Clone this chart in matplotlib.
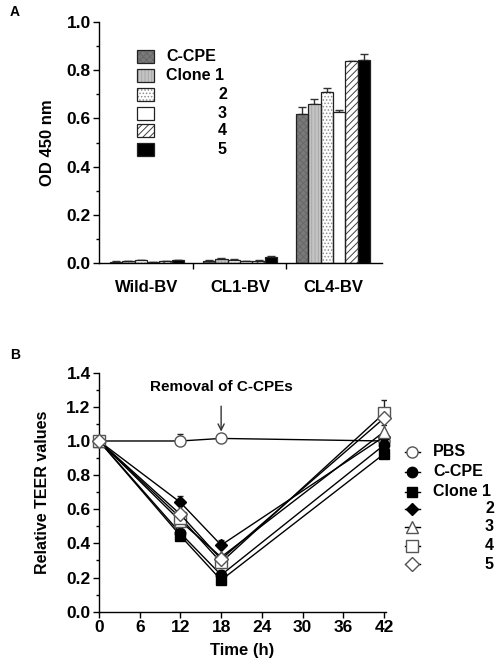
import matplotlib
matplotlib.use('Agg')
import matplotlib.pyplot as plt
import numpy as np
from matplotlib.patches import Rectangle
from matplotlib.lines import Line2D
from matplotlib.ticker import MultipleLocator, FormatStrFormatter

plt.rcParams['font.family'] = ['Liberation Sans', 'DejaVu Sans']
plt.rcParams['font.weight'] = 'bold'
plt.rcParams['hatch.linewidth'] = 0.7

# ---------------- Panel A data ----------------
groups = ['Wild-BV', 'CL1-BV', 'CL4-BV']
series_a = ['C-CPE', 'Clone 1', '2', '3', '4', '5']
od_ccpe = [0.005, 0.010, 0.620]
od_clone1 = [0.008, 0.018, 0.660]
od_c2 = [0.012, 0.014, 0.708]
od_c3 = [0.003, 0.008, 0.625]
od_c4 = [0.007, 0.010, 0.837]
od_c5 = [0.012, 0.025, 0.844]
err_ccpe = [0.002, 0.002, 0.027]
err_clone1 = [0.002, 0.003, 0.020]
err_c2 = [0.002, 0.002, 0.018]
err_c3 = [0.001, 0.001, 0.010]
err_c4 = [0.001, 0.002, 0.003]
err_c5 = [0.002, 0.002, 0.025]

# ---------------- Panel B data ----------------
time_h = [0, 12, 18, 42]
series_b = ['PBS', 'C-CPE', 'Clone 1', '2', '3', '4', '5']
teer_pbs = [1.0, 1.0, 1.015, 1.0]
teer_ccpe = [1.0, 0.46, 0.215, 0.976]
teer_clone1 = [1.0, 0.445, 0.185, 0.924]
teer_c2 = [1.0, 0.64, 0.39, 1.025]
teer_c3 = [1.0, 0.53, 0.32, 1.054]
teer_c4 = [1.0, 0.55, 0.289, 1.162]
teer_c5 = [1.0, 0.57, 0.307, 1.133]
terr_pbs = [0, 0.04, 0.0, 0.0]
terr_ccpe = [0, 0.02, 0.03, 0.02]
terr_clone1 = [0, 0.09, 0.02, 0.01]
terr_c2 = [0, 0.04, 0.03, 0.02]
terr_c3 = [0, 0.02, 0.02, 0.04]
terr_c4 = [0, 0.02, 0.02, 0.08]
terr_c5 = [0, 0.02, 0.02, 0.02]

fig = plt.figure(figsize=(4.98, 6.65), dpi=100)

# ================= Panel A =================
axA = fig.add_axes([99/498, 1-263/665, 283/498, 241/665])
od_all = [od_ccpe, od_clone1, od_c2, od_c3, od_c4, od_c5]
err_all = [err_ccpe, err_clone1, err_c2, err_c3, err_c4, err_c5]
faces = ['#7a7a7a', '#c4c4c4', 'white', 'white', 'white', 'black']
hatches = ['xxxxx', '|||||', '.....', None, '/////', None]
hcols = ['#686868', '#a8a8a8', '#909090', None, '#404040', None]
n = len(series_a)
w = 0.8 / n
x = np.arange(len(groups))
for i in range(n):
    xi = x - 0.4 + w * (i + 0.5)
    axA.bar(xi, od_all[i], width=w, color=faces[i], hatch=hatches[i],
            edgecolor=hcols[i] if hcols[i] else faces[i], linewidth=0, zorder=2)
    axA.bar(xi, od_all[i], width=w, fill=False, edgecolor='#222222', linewidth=0.9, zorder=3)
    axA.errorbar(xi, od_all[i], yerr=[np.zeros(len(groups)), err_all[i]], fmt='none',
                 ecolor='#333333', elinewidth=1, capsize=3, capthick=1, zorder=1)
axA.set_xlim(-0.516, 2.527)
axA.set_ylim(0, 1.0)
axA.yaxis.set_major_locator(MultipleLocator(0.2))
axA.yaxis.set_minor_locator(MultipleLocator(0.1))
axA.yaxis.set_major_formatter(FormatStrFormatter('%.1f'))
axA.set_xticks([0.5, 1.5])
axA.set_xticklabels([])
axA.set_xticks(x, minor=True)
axA.set_xticklabels(groups, minor=True, fontsize=12)
axA.tick_params(axis='x', which='minor', length=0, pad=12)
axA.tick_params(axis='x', which='major', length=4, width=1)
axA.tick_params(axis='y', which='major', length=4, width=1, pad=2, labelsize=12.5)
axA.tick_params(axis='y', which='minor', length=2, width=1)
for s in ['top', 'right']:
    axA.spines[s].set_visible(False)
for s in ['left', 'bottom']:
    axA.spines[s].set_linewidth(1)
axA.set_ylabel('OD 450 nm', fontsize=12, fontweight='bold')
axA.yaxis.set_label_coords(-0.155, 0.5)

# manual legend A
ly = [0.855, 0.780, 0.700, 0.622, 0.548, 0.473]
for i in range(n):
    axA.add_patch(Rectangle((0.134, ly[i] - 0.027), 0.06, 0.054, transform=axA.transAxes,
                            facecolor=faces[i], hatch=hatches[i],
                            edgecolor=hcols[i] if hcols[i] else faces[i], linewidth=0, zorder=4))
    axA.add_patch(Rectangle((0.134, ly[i] - 0.027), 0.06, 0.054, transform=axA.transAxes,
                            fill=False, edgecolor='#222222', linewidth=0.9, zorder=5))
    if i < 2:
        axA.text(0.237, ly[i], series_a[i], transform=axA.transAxes, fontsize=11.5,
                 va='center', ha='left')
    else:
        axA.text(0.452, ly[i], series_a[i], transform=axA.transAxes, fontsize=11.5,
                 va='center', ha='right')

fig.text(10/498, 1-12/665, 'A', fontsize=10, fontweight='bold', va='center', ha='left')

# ================= Panel B =================
axB = fig.add_axes([99/498, 1-611.7/665, 287/498, 239/665])
teer_all = [teer_pbs, teer_ccpe, teer_clone1, teer_c2, teer_c3, teer_c4, teer_c5]
terr_all = [terr_pbs, terr_ccpe, terr_clone1, terr_c2, terr_c3, terr_c4, terr_c5]
markers = ['o', 'o', 's', 'D', '^', 's', 'D']
msizes = [8, 7.5, 6.5, 6, 8, 8, 7.5]
mfcs = ['white', 'black', 'black', 'black', 'white', 'white', 'white']
mecs = ['#555555', 'black', 'black', 'black', '#555555', '#555555', '#555555']
for i in range(len(series_b)):
    axB.errorbar(time_h, teer_all[i], yerr=[np.zeros(4), terr_all[i]], fmt='none',
                 ecolor='#222222', elinewidth=1, capsize=2.5, capthick=1, zorder=2)
    axB.plot(time_h, teer_all[i], color='black', linewidth=1, marker=markers[i],
             markersize=msizes[i], markerfacecolor=mfcs[i], markeredgecolor=mecs[i],
             markeredgewidth=1, zorder=3 + i, clip_on=False)
axB.set_xlim(0, 42.3)
axB.set_ylim(0, 1.4)
axB.set_xticks(np.arange(0, 43, 6))
axB.yaxis.set_major_locator(MultipleLocator(0.2))
axB.yaxis.set_minor_locator(MultipleLocator(0.1))
axB.yaxis.set_major_formatter(FormatStrFormatter('%.1f'))
axB.tick_params(axis='both', which='major', length=4, width=1, pad=2, labelsize=12.5)
axB.tick_params(axis='y', which='minor', length=2, width=1)
for s in ['top', 'right']:
    axB.spines[s].set_visible(False)
for s in ['left', 'bottom']:
    axB.spines[s].set_linewidth(1)
axB.set_xlabel('Time (h)', fontsize=12, fontweight='bold')
axB.xaxis.set_label_coords(0.5, -0.13)
axB.set_ylabel('Relative TEER values', fontsize=11.5, fontweight='bold')
axB.yaxis.set_label_coords(-0.17, 0.5)

axB.annotate('Removal of C-CPEs', xy=(18, 1.055), xytext=(18, 1.318),
             ha='center', va='center', fontsize=11,
             arrowprops=dict(arrowstyle='->', color='#333333', lw=1,
                             shrinkA=7, shrinkB=0))

# manual legend B
lyb = [0.669, 0.586, 0.502, 0.430, 0.356, 0.276, 0.198]
for i in range(len(series_b)):
    axB.add_line(Line2D([1.066, 1.118], [lyb[i], lyb[i]], transform=axB.transAxes,
                        color='black', linewidth=1, clip_on=False))
    axB.add_line(Line2D([1.092], [lyb[i]], transform=axB.transAxes, marker=markers[i],
                        markersize=msizes[i], markerfacecolor=mfcs[i],
                        markeredgecolor=mecs[i], markeredgewidth=1, clip_on=False))
    if i < 3:
        axB.text(1.164, lyb[i], series_b[i], transform=axB.transAxes, fontsize=11.5,
                 va='center', ha='left')
    else:
        axB.text(1.376, lyb[i], series_b[i], transform=axB.transAxes, fontsize=11.5,
                 va='center', ha='right')

fig.text(10/498, 1-355/665, 'B', fontsize=10, fontweight='bold', va='center', ha='left')

fig.savefig('out.png', dpi=100)
